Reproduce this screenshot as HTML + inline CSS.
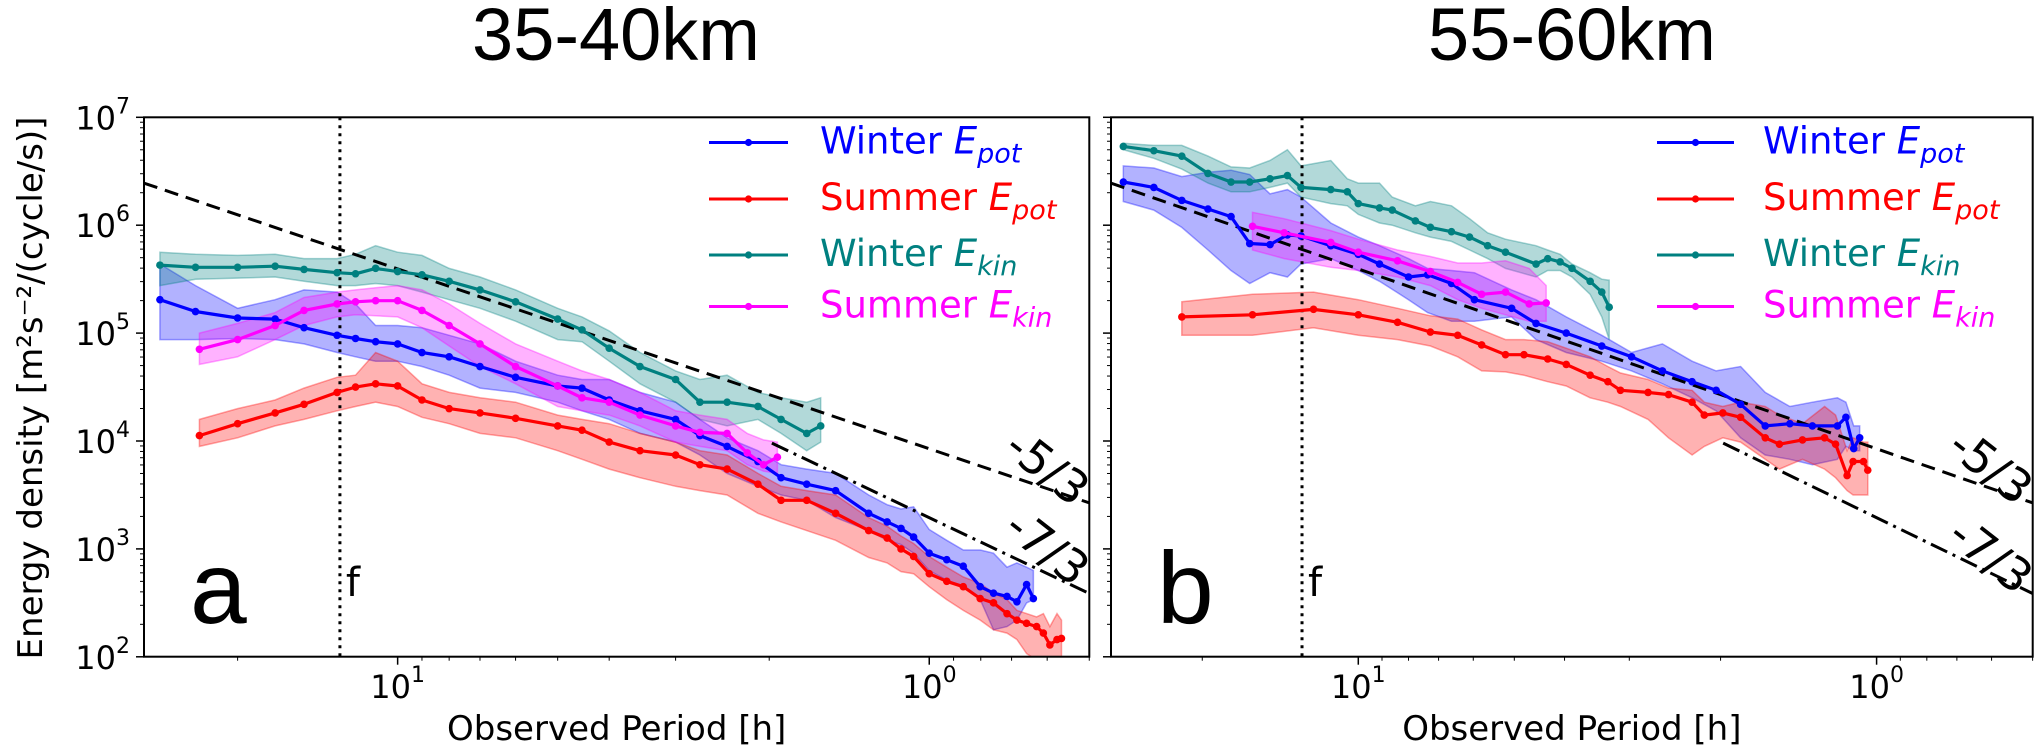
<!DOCTYPE html>
<html><head><meta charset="utf-8"><style>
html,body{margin:0;padding:0;background:#fff;}
svg{display:block;font-family:"DejaVu Sans","Liberation Sans",sans-serif;}
</style></head><body>
<svg id="chart" width="2034" height="749" viewBox="0 0 2034 749" xmlns="http://www.w3.org/2000/svg">
<text x="616" y="60" text-anchor="middle" font-family="Liberation Sans, sans-serif" font-size="74">35-40km</text>
<text x="1572" y="60" text-anchor="middle" font-family="Liberation Sans, sans-serif" font-size="74">55-60km</text>
<text transform="translate(42,388) rotate(-90)" text-anchor="middle" font-size="34">Energy density [m²s⁻²/(cycle/s)]</text>
<g id="layer"></g>
</svg>
<script>
// ---------- Panel a (35-40km) data: periods [h] and log10 energy ----------
const aBluePeriods=[28,24,20,17,15,13,12,11,10,9,8,7,6,5,4.5,4,3.5,3,2.7,2.4,2.1,1.9,1.7,1.5,1.3,1.2,1.13,1.07,1.0,0.927,0.863,0.802,0.757,0.714,0.684,0.656,0.637];
const aBlueLog=[5.31,5.20,5.14,5.13,5.05,4.98,4.95,4.92,4.90,4.82,4.78,4.69,4.59,4.51,4.49,4.38,4.28,4.20,4.05,3.95,3.81,3.66,3.60,3.54,3.33,3.25,3.19,3.11,2.96,2.90,2.84,2.65,2.59,2.56,2.51,2.67,2.54];
const aBlueHi=[5.64,5.44,5.23,5.31,5.40,5.38,5.27,5.07,5.07,5.05,4.98,4.90,4.74,4.61,4.57,4.57,4.45,4.36,4.20,4.03,3.91,3.78,3.74,3.70,3.50,3.41,3.37,3.39,3.18,3.08,2.99,2.99,2.96,2.83,2.87,2.83,2.80];
const aBlueLo=[4.94,4.94,4.95,4.94,4.90,4.82,4.78,4.74,4.74,4.69,4.61,4.49,4.45,4.36,4.28,4.20,4.07,3.99,3.87,3.70,3.58,3.50,3.45,3.29,3.17,3.08,3.04,2.96,2.80,2.71,2.65,2.53,2.25,2.28,2.34,2.50,2.53];

const aRedPeriods=[23.6,20,17,15,13,12,11,10,9,8,7,6,5,4.5,4,3.5,3,2.7,2.4,2.1,1.9,1.7,1.5,1.3,1.2,1.13,1.07,1.0,0.927,0.863,0.802,0.757,0.714,0.684,0.656,0.628,0.61,0.593,0.575,0.564];
const aRedLog=[4.05,4.16,4.26,4.34,4.45,4.50,4.53,4.51,4.38,4.30,4.26,4.21,4.14,4.10,3.99,3.91,3.87,3.78,3.74,3.60,3.45,3.45,3.33,3.17,3.10,3.00,2.93,2.77,2.70,2.65,2.54,2.50,2.40,2.34,2.31,2.28,2.22,2.11,2.16,2.17];
const aRedHi=[4.20,4.30,4.38,4.49,4.59,4.61,4.82,4.74,4.53,4.45,4.40,4.36,4.24,4.20,4.16,4.07,3.99,3.91,3.87,3.70,3.58,3.54,3.50,3.29,3.21,3.12,3.05,2.93,2.83,2.74,2.68,2.59,2.53,2.43,2.40,2.37,2.40,2.28,2.40,2.34];
const aRedLo=[3.95,4.03,4.14,4.20,4.28,4.32,4.36,4.32,4.22,4.16,4.07,4.03,3.91,3.83,3.74,3.66,3.58,3.54,3.50,3.33,3.25,3.17,3.08,2.92,2.87,2.79,2.77,2.65,2.53,2.43,2.34,2.25,2.22,2.16,2.03,1.97,1.97,1.97,1.97,2.00];

const aTealPeriods=[28,24,20,17,15,13,12,11,10,9,8,7,6,5,4.5,4,3.5,3,2.7,2.4,2.1,1.9,1.7,1.6];
const aTealLog=[5.63,5.61,5.61,5.62,5.59,5.56,5.55,5.60,5.57,5.54,5.48,5.40,5.29,5.13,5.03,4.86,4.69,4.57,4.36,4.36,4.32,4.20,4.07,4.14];
const aTealHi=[5.75,5.73,5.72,5.73,5.69,5.69,5.73,5.81,5.75,5.72,5.60,5.52,5.40,5.23,5.15,5.02,4.82,4.65,4.57,4.61,4.45,4.40,4.36,4.40];
const aTealLo=[5.44,5.50,5.51,5.52,5.48,5.44,5.44,5.46,5.44,5.38,5.31,5.23,5.11,4.94,4.92,4.74,4.53,4.36,4.20,4.14,4.20,4.07,3.91,3.99];

const aMagPeriods=[23.6,20,17,15,13,12,11,10,9,8,7,6,5,4.5,4,3.5,3,2.7,2.4,2.2,2.05,1.93];
const aMagLog=[4.85,4.94,5.07,5.21,5.27,5.29,5.30,5.30,5.21,5.07,4.90,4.69,4.51,4.40,4.36,4.24,4.14,4.08,4.07,3.89,3.78,3.85];
const aMagHi=[5.00,5.09,5.19,5.33,5.38,5.40,5.42,5.44,5.40,5.27,5.09,4.90,4.74,4.65,4.57,4.45,4.28,4.24,4.20,4.07,4.01,3.99];
const aMagLo=[4.71,4.78,4.94,5.07,5.15,5.17,5.16,5.15,5.05,4.88,4.69,4.53,4.32,4.28,4.24,4.14,3.99,3.95,3.91,3.78,3.72,3.70];

// ---------- Panel b (55-60km) data ----------
const bBluePeriods=[28.4,24.8,21.9,19.5,17.6,16.2,14.8,13.7,12.9,11.3,10,9.1,8,7.35,6.61,5.97,5.06,4.54,3.97,3.39,2.97,2.59,2.27,2.04,1.83,1.64,1.47,1.33,1.19,1.146,1.107,1.078];
const bBlueLog=[6.40,6.35,6.23,6.15,6.08,5.83,5.82,5.91,5.90,5.81,5.73,5.64,5.52,5.54,5.46,5.31,5.23,5.09,5.00,4.88,4.78,4.65,4.55,4.47,4.34,4.14,4.16,4.14,4.14,4.22,3.93,4.03];
const bBlueHi=[6.55,6.53,6.45,6.49,6.51,6.47,6.29,6.33,6.26,6.02,5.89,5.81,5.69,5.60,5.58,5.56,5.40,5.31,5.15,4.98,4.82,4.90,4.74,4.65,4.69,4.45,4.32,4.36,4.40,4.36,4.14,4.14];
const bBlueLo=[6.22,6.14,5.98,5.77,5.58,5.46,5.56,5.52,5.64,5.69,5.58,5.48,5.31,5.19,5.11,5.11,5.15,4.94,4.82,4.74,4.65,4.53,4.40,4.28,4.03,3.87,3.83,3.78,3.83,3.95,3.91,3.91];

const bRedPeriods=[21.9,16,12.2,10,8.4,7.26,6.43,5.78,5.2,4.79,4.31,3.97,3.57,3.3,3.12,2.76,2.52,2.27,2.15,1.98,1.83,1.64,1.54,1.39,1.26,1.2,1.14,1.11,1.06,1.04];
const bRedLog=[5.15,5.17,5.22,5.17,5.10,5.01,4.98,4.89,4.80,4.80,4.76,4.71,4.61,4.55,4.47,4.45,4.43,4.36,4.24,4.26,4.22,4.03,3.97,4.01,4.03,3.97,3.68,3.81,3.81,3.73];
const bRedHi=[5.29,5.36,5.38,5.31,5.23,5.16,5.13,5.03,4.94,4.94,4.92,4.86,4.78,4.69,4.63,4.57,4.49,4.47,4.36,4.32,4.36,4.32,4.24,4.16,4.32,4.24,3.91,4.03,3.99,3.99];
const bRedLo=[4.98,4.98,5.05,4.98,4.94,4.88,4.78,4.65,4.64,4.61,4.55,4.51,4.40,4.36,4.32,4.20,4.03,3.87,3.95,4.03,3.99,3.83,3.74,3.83,3.74,3.66,3.54,3.50,3.50,3.50];

const bTealPeriods=[28.4,24.8,21.9,19.5,17.6,16.2,14.8,13.7,12.9,11.3,10.5,10,9.1,8.6,7.76,7.26,6.61,6.1,5.63,5.2,4.54,4.31,4.08,3.87,3.57,3.39,3.28];
const bTealLog=[6.73,6.69,6.64,6.48,6.40,6.40,6.43,6.46,6.35,6.33,6.31,6.20,6.16,6.14,6.04,5.98,5.94,5.89,5.81,5.75,5.64,5.69,5.66,5.60,5.48,5.38,5.24];
const bTealHi=[6.76,6.74,6.74,6.64,6.54,6.53,6.60,6.70,6.55,6.60,6.43,6.39,6.39,6.26,6.18,6.22,6.18,6.06,5.93,5.87,5.81,5.77,5.73,5.64,5.56,5.50,5.49];
const bTealLo=[6.70,6.62,6.52,6.39,6.31,6.31,6.35,6.39,6.26,6.20,6.18,6.10,6.02,6.00,5.93,5.89,5.85,5.77,5.69,5.60,5.52,5.58,5.58,5.52,5.36,5.15,4.94];

const bMagPeriods=[16,13.9,11.3,10,8.4,7.26,6.43,5.78,5.2,4.68,4.34];
const bMagLog=[5.99,5.93,5.84,5.75,5.67,5.57,5.47,5.36,5.38,5.27,5.28];
const bMagHi=[6.12,6.06,5.95,5.87,5.77,5.71,5.65,5.65,5.67,5.60,5.44];
const bMagLo=[5.77,5.69,5.61,5.58,5.52,5.44,5.31,5.23,5.17,5.11,5.11];

// reference slopes, inertial period, axis ticks
const slope53Anchor=[30,6.39];   // [period h, log10 E]
const slope73Anchor=[1.977,3.98];
const inertialPeriod=12.84;
const yTickExps=[2,3,4,5,6,7];
const xMajorTicks=[10,1];
const xMinorTicks=[20,9,8,7,6,5,4,3,2,0.9,0.8,0.7,0.6,0.5];
const legendLabels=[["Winter ","pot"],["Summer ","pot"],["Winter ","kin"],["Summer ","kin"]];
const legendColors=["#0000ff","#ff0000","#008080","#ff00ff"];

const NS="http://www.w3.org/2000/svg";
const layer=document.getElementById('layer');
const Y0=117.3,Y1=656.7,YDEC=107.9;
const panels=[{x0:144,x1:1089.3,dec:531.6,letter:"a",leg:[709,788,820],name:"panel-a"},
              {x0:1111,x1:2032.7,dec:518.3,letter:"b",leg:[1657,1734,1763],name:"panel-b"}];
function el(tag,attrs,parent){const e=document.createElementNS(NS,tag);for(const k in attrs)e.setAttribute(k,attrs[k]);(parent||layer).appendChild(e);return e;}
function xs(p,P){return p.x0+(Math.log10(30)-Math.log10(P))*p.dec;}
function ys(le){return Y0+(7-le)*YDEC;}

const seriesA=[["winter-epot",aBluePeriods,aBlueLog,aBlueHi,aBlueLo,"#0000ff"],["summer-epot",aRedPeriods,aRedLog,aRedHi,aRedLo,"#ff0000"],["winter-ekin",aTealPeriods,aTealLog,aTealHi,aTealLo,"#008080"],["summer-ekin",aMagPeriods,aMagLog,aMagHi,aMagLo,"#ff00ff"]];
const seriesB=[["winter-epot",bBluePeriods,bBlueLog,bBlueHi,bBlueLo,"#0000ff"],["summer-epot",bRedPeriods,bRedLog,bRedHi,bRedLo,"#ff0000"],["winter-ekin",bTealPeriods,bTealLog,bTealHi,bTealLo,"#008080"],["summer-ekin",bMagPeriods,bMagLog,bMagHi,bMagLo,"#ff00ff"]];

panels.forEach((p,pi)=>{
  const g=el('g',{});
  
  
  const cp=el('clipPath',{id:'clip'+pi},g);
  el('rect',{x:p.x0,y:Y0,width:p.x1-p.x0,height:Y1-Y0},cp);
  const plot=el('g',{'clip-path':'url(#clip'+pi+')'},g);
  const ser=pi===0?seriesA:seriesB;
  ser.forEach(s=>{
    const [nm,P,L,H,Lo,c]=s;
    let d='';
    P.forEach((v,i)=>{d+=(i?'L':'M')+xs(p,v).toFixed(1)+','+ys(H[i]).toFixed(1);});
    for(let i=P.length-1;i>=0;i--)d+='L'+xs(p,P[i]).toFixed(1)+','+ys(Lo[i]).toFixed(1);
    const b=el('path',{d:d+'Z',fill:c,'fill-opacity':0.3,stroke:c,'stroke-opacity':0.35,'stroke-width':1.5},plot);
    
    
  });
  const lpL=Math.log10(30),lpR=Math.log10(0.5);
  const l53=el('line',{x1:xs(p,30),y1:ys(slope53Anchor[1]+5/3*(lpL-Math.log10(slope53Anchor[0]))),x2:xs(p,0.5),y2:ys(slope53Anchor[1]+5/3*(lpR-Math.log10(slope53Anchor[0]))),stroke:'#000','stroke-width':3,'stroke-dasharray':'14,8'},plot);
  
  
  const l73=el('line',{x1:xs(p,slope73Anchor[0]),y1:ys(slope73Anchor[1]),x2:xs(p,0.5),y2:ys(slope73Anchor[1]+7/3*(lpR-Math.log10(slope73Anchor[0]))),stroke:'#000','stroke-width':3,'stroke-dasharray':'18,6,3,6'},plot);
  
  
  const fx=xs(p,inertialPeriod);
  const fl=el('line',{x1:fx,y1:Y0,x2:fx,y2:Y1,stroke:'#000','stroke-width':3,'stroke-dasharray':'3,5'},plot);
  
  
  ser.forEach(s=>{
    const [nm,P,L,H,Lo,c]=s;
    const pts=P.map((v,i)=>xs(p,v).toFixed(1)+','+ys(L[i]).toFixed(1)).join(' ');
    const ln=el('polyline',{points:pts,fill:'none',stroke:c,'stroke-width':3.2,'stroke-linejoin':'round'},plot);
    
    
    P.forEach((v,i)=>{
      const m=el('circle',{cx:xs(p,v),cy:ys(L[i]),r:3.8,fill:c},plot);
      
      
    });
  });
  const fr=el('rect',{x:p.x0,y:Y0,width:p.x1-p.x0,height:Y1-Y0,fill:'none',stroke:'#000','stroke-width':2},g);
  
  
  yTickExps.forEach(k=>{
    const y=ys(k);
    el('line',{x1:p.x0-8,y1:y,x2:p.x0,y2:y,stroke:'#000','stroke-width':1.5},g);
    if(k<7)for(let m=2;m<10;m++){const yy=ys(k+Math.log10(m));el('line',{x1:p.x0-4,y1:yy,x2:p.x0,y2:yy,stroke:'#000','stroke-width':1},g);}
    if(pi===0){
      const t=el('text',{x:p.x0-14,y:y+12,'text-anchor':'end','font-size':32},g);
      
      
      t.appendChild(document.createTextNode('10'));
      const s=el('tspan',{'font-size':22,dy:-16},t);s.textContent=String(k);
    }
  });
  xMajorTicks.forEach(P=>{
    const x=xs(p,P);
    el('line',{x1:x,y1:Y1,x2:x,y2:Y1+8,stroke:'#000','stroke-width':1.5},g);
    const t=el('text',{x:x,y:698,'text-anchor':'middle','font-size':32},g);
    
    
    t.appendChild(document.createTextNode('10'));
    const s=el('tspan',{'font-size':22,dy:-16},t);s.textContent=String(Math.round(Math.log10(P)));
  });
  xMinorTicks.forEach(P=>{const x=xs(p,P);el('line',{x1:x,y1:Y1,x2:x,y2:Y1+4,stroke:'#000','stroke-width':1},g);});
  const xt=el('text',{x:(p.x0+p.x1)/2,y:740,'text-anchor':'middle','font-size':34},g);
  
  
  xt.textContent='Observed Period [h]';
  const lt=el('text',{x:p.x0+46,y:623,'font-family':'Liberation Sans, sans-serif','font-size':102},g);
  
  
  lt.textContent=p.letter;
  const ft=el('text',{x:fx+6,y:596,'font-size':40},g);
  
  
  ft.textContent='f';
  const lbx=p.x1-44;
  const s1=el('text',{x:0,y:0,transform:'translate('+lbx+','+(pi===0?470:469)+') rotate(38)','text-anchor':'middle','font-size':46,'dominant-baseline':'middle'},g);
  
  
  s1.textContent='-5/3';
  const s2=el('text',{x:0,y:0,transform:'translate('+lbx+','+(pi===0?550:558)+') rotate(38)','text-anchor':'middle','font-size':46,'dominant-baseline':'middle'},g);
  
  
  s2.textContent='-7/3';
  const lg=el('g',{},g);
  
  
  const legY=[142.5,199,255,306.5];
  legendLabels.forEach((lab,i)=>{
    const c=legendColors[i];
    const e=el('g',{},lg);
    
    
    el('line',{x1:p.leg[0],y1:legY[i],x2:p.leg[1],y2:legY[i],stroke:c,'stroke-width':3},e);
    el('circle',{cx:(p.leg[0]+p.leg[1])/2,cy:legY[i],r:3.6,fill:c},e);
    const t=el('text',{x:p.leg[2],y:legY[i]+11,fill:c,'font-size':37},e);
    t.appendChild(document.createTextNode(lab[0]));
    const E=el('tspan',{'font-style':'italic'},t);E.textContent='E';
    const sub=el('tspan',{'font-style':'italic','font-size':27,dy:9},t);sub.textContent=lab[1];
  });
});
</script>
</body></html>
